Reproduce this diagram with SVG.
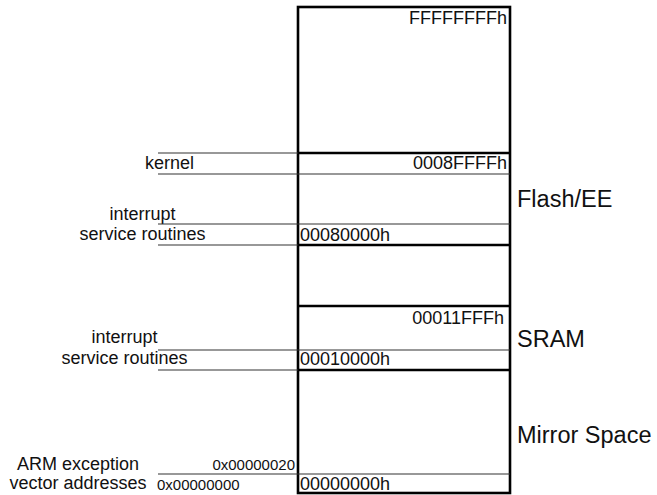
<svg xmlns="http://www.w3.org/2000/svg" width="657" height="495" viewBox="0 0 657 495">
<style>
text{font-family:"Liberation Sans",Arial,sans-serif;fill:#111}
.m{font-size:18px}
.s{font-size:15px}
.l{font-size:23.5px}
.r{text-anchor:end}
.c{text-anchor:middle}
.thick{stroke:#000;stroke-width:2.6;fill:none}
.thin{stroke:#333;stroke-width:1.2;fill:none}
</style>
<rect width="657" height="495" fill="#fff"/>
<g id="memory-map">
<rect class="thick" x="298" y="7" width="212" height="486"/>
</g>
<g id="top-region">
<text class="m r" x="507" y="24">FFFFFFFFh</text>
</g>
<g id="flash-ee">
<line class="thick" x1="298" y1="153" x2="510" y2="153"/>
<line class="thin" x1="298" y1="174" x2="510" y2="174"/>
<line class="thin" x1="298" y1="224" x2="510" y2="224"/>
<text class="m r" x="507" y="169">0008FFFFh</text>
<text class="m" x="300" y="241">00080000h</text>
<text class="l" x="517" y="207">Flash/EE</text>
</g>
<g id="gap-region">
<line class="thick" x1="298" y1="245" x2="510" y2="245"/>
<line class="thick" x1="298" y1="306" x2="510" y2="306"/>
</g>
<g id="sram">
<line class="thin" x1="298" y1="350" x2="510" y2="350"/>
<text class="m r" x="504" y="324">00011FFFh</text>
<text class="m" x="300" y="365">00010000h</text>
<text class="l" x="517" y="347">SRAM</text>
</g>
<g id="mirror-space">
<line class="thick" x1="298" y1="370" x2="510" y2="370"/>
<line class="thin" x1="298" y1="474" x2="510" y2="474"/>
<text class="m" x="300" y="490">00000000h</text>
<text class="l" x="517" y="443">Mirror Space</text>
</g>
<g id="label-kernel">
<text class="m c" x="169.5" y="169">kernel</text>
</g>
<g id="label-isr-flash">
<text class="m c" x="142.5" y="220">interrupt</text>
<text class="m c" x="142.5" y="240">service routines</text>
</g>
<g id="label-isr-sram">
<text class="m c" x="124.5" y="343">interrupt</text>
<text class="m c" x="124.5" y="364">service routines</text>
</g>
<g id="label-arm">
<text class="m c" x="78" y="470">ARM exception</text>
<text class="m c" x="78" y="489">vector addresses</text>
<text class="s r" x="295" y="470">0x00000020</text>
<text class="s" x="157" y="490">0x00000000</text>
</g>
<g id="connectors">
<line class="thin" x1="158" y1="153" x2="298" y2="153"/>
<line class="thin" x1="158" y1="174" x2="298" y2="174"/>
<line class="thin" x1="158" y1="224" x2="298" y2="224"/>
<line class="thin" x1="158" y1="245" x2="298" y2="245"/>
<line class="thin" x1="158" y1="350" x2="298" y2="350"/>
<line class="thin" x1="158" y1="370" x2="298" y2="370"/>
<line class="thin" x1="158" y1="474" x2="298" y2="474"/>
</g>
</svg>
